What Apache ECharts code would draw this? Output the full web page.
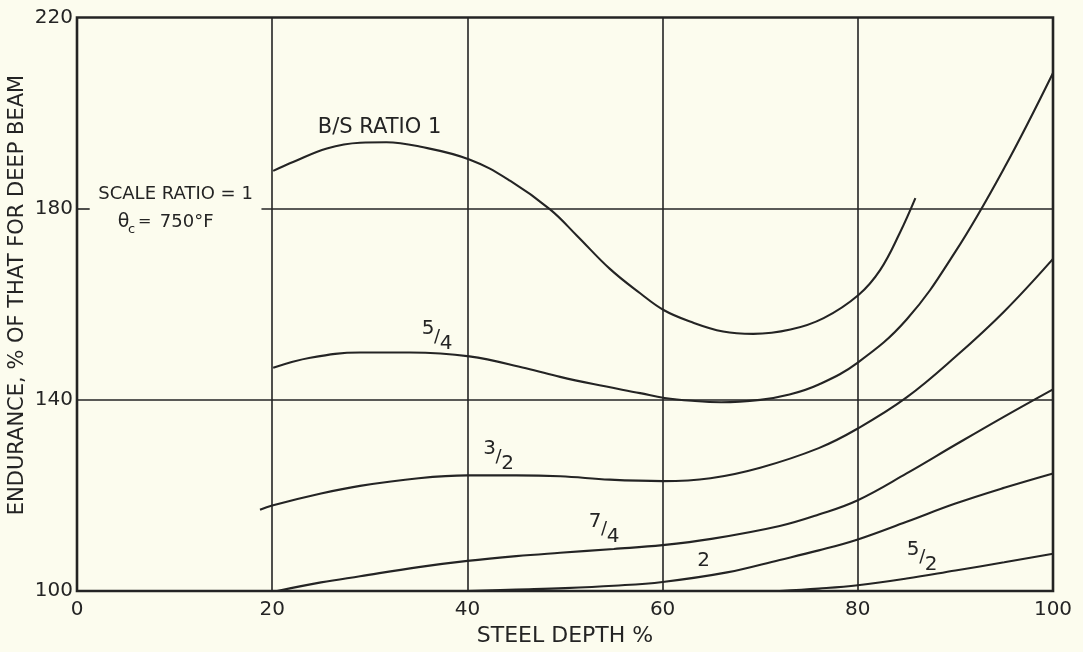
<!DOCTYPE html>
<html>
<head>
<meta charset="utf-8">
<script src="https://cdn.jsdelivr.net/npm/echarts@6/dist/echarts.min.js"></script>
<style>
html,body{margin:0;padding:0;background:#fcfcee;}
#chart{width:1083px;height:652px;}
</style>
</head>
<body>
<div id="chart"></div>
<script>
// ---- data ----
const xTicks = [0, 20, 40, 60, 80, 100];
const yTicks = [100, 140, 180, 220];
const ratio1   = [[20.1,187.9],[22.2,189.8],[25.6,192.6],[29.0,193.8],[31.7,193.9],[35.1,193.0],[40.2,190.3],[44.4,185.8],[48.5,179.8],[51.2,174.4],[54.6,167.4],[57.7,162.3],[60.1,158.8],[62.8,156.4],[66.2,154.3],[69.3,153.8],[73.1,154.7],[76.5,157.1],[80.1,162.0],[82.3,167.2],[84.3,174.9],[85.9,182.2]];
const ratio5_4 = [[20.1,146.7],[23.9,148.8],[29.0,149.9],[34.1,149.9],[40.2,149.1],[46.0,146.6],[49.5,144.8],[52.9,143.3],[57.7,141.4],[60.2,140.4],[63,139.8],[66,139.5],[70,140.0],[73,141.1],[76,143.2],[80,147.8],[85,156.8],[90,171.0],[95,188.5],[100,208.4]];
const ratio3_2 = [[18.75,117.0],[20,117.9],[25,120.4],[29,122.0],[35,123.6],[40,124.2],[45,124.2],[49.5,124.0],[54.6,123.3],[60,123.0],[64.9,123.6],[70,125.8],[76,129.9],[80,134.0],[85,140.5],[90,149.0],[95,158.5],[100,169.5]];
const ratio7_4 = [[20.5,100.0],[25,101.8],[29,103.1],[35,105.0],[40,106.3],[45,107.3],[49.5,108.0],[55,108.8],[60,109.6],[65,110.9],[72,113.6],[76,116.0],[80,119.0],[85,124.6],[90,130.6],[95,136.5],[100,142.2]];
const ratio2   = [[40,100.0],[45,100.3],[50,100.6],[55,101.1],[60,101.9],[66.6,103.9],[72,106.5],[76,108.5],[80,110.8],[85,114.5],[90,118.3],[95,121.6],[100,124.6]];
const ratio5_2 = [[72,100.0],[76,100.5],[80,101.2],[85,102.6],[90,104.3],[95,106.0],[100,107.8]];
// curve labels: [text, x, y]
const curveLabels = [['B/S RATIO 1', 31.0, 196.9]];
const fractionLabels = [['5','4',36.9,153.1],['3','2',43.2,128.0],['7','4',54.0,112.9],['5','2',86.6,107.0]];
const plainLabels = [['2', 64.2, 106.3]];
const noteLine1 = ['SCALE RATIO = 1', 10.1, 183.1];
const noteLine2 = ['750°F', 9.8, 177.2];
const yName = 'ENDURANCE, % OF THAT FOR DEEP BEAM';
const xName = 'STEEL DEPTH %';

const INK = '#242424';
const FONT = 'DejaVu Sans';
const chart = echarts.init(document.getElementById('chart'));

function curve(name, data) {
  return {
    name, type: 'line', data, smooth: 0.4,
    showSymbol: false, symbol: 'none', silent: true,
    lineStyle: { color: INK, width: 2.1 }, z: 3
  };
}

const gridSeries = {
  type: 'line', data: [], silent: true,
  markLine: {
    symbol: 'none', silent: true, label: { show: false },
    lineStyle: { color: INK, width: 1.6, type: 'solid' },
    data: [
      [{ coord: [0, 140] }, { coord: [100, 140] }],
      [{ coord: [18.9, 180] }, { coord: [100, 180] }],
      [{ coord: [0, 180] }, { coord: [1.3, 180] }]
    ]
  }
};

chart.setOption({
  backgroundColor: '#fcfcee',
  animation: false,
  grid: { left: 77, right: 30, top: 17.5, bottom: 60.3, show: true, borderColor: INK, borderWidth: 2.6, backgroundColor: 'transparent' },
  xAxis: {
    type: 'value', min: xTicks[0], max: xTicks[xTicks.length - 1], interval: 20,
    axisLine: { show: false }, axisTick: { show: false },
    axisLabel: { color: INK, fontFamily: FONT, fontSize: 20, margin: 9, formatter: v => xTicks.includes(v) ? String(v) : '' },
    splitLine: { show: true, lineStyle: { color: INK, width: 1.6 } },
    name: xName, nameLocation: 'middle', nameGap: 34,
    nameTextStyle: { color: INK, fontFamily: FONT, fontSize: 22 }
  },
  yAxis: {
    type: 'value', min: yTicks[0], max: yTicks[yTicks.length - 1], interval: 40,
    axisLine: { show: false }, axisTick: { show: false },
    axisLabel: { color: INK, fontFamily: FONT, fontSize: 20, margin: 4, formatter: v => yTicks.includes(v) ? String(v) : '' },
    splitLine: { show: false }
  },
  series: [
    gridSeries,
    curve('1', ratio1), curve('5/4', ratio5_4), curve('3/2', ratio3_2),
    curve('7/4', ratio7_4), curve('2', ratio2), curve('5/2', ratio5_2)
  ]
});

function px(x, y) { return chart.convertToPixel({ gridIndex: 0 }, [x, y]); }
const txt = (text, x, y, size, extra) => Object.assign({
  type: 'text', x, y, silent: true, z: 10,
  style: Object.assign({ text, fill: INK, font: `${size}px "${FONT}"`, align: 'center', verticalAlign: 'middle' }, extra || {})
});

const g = [];
curveLabels.forEach(([t, x, y]) => { const p = px(x, y); g.push(txt(t, p[0], p[1], 21)); });
plainLabels.forEach(([t, x, y]) => { const p = px(x, y); g.push(txt(t, p[0], p[1], 20)); });
fractionLabels.forEach(([n, d, x, y]) => {
  const p = px(x, y);
  g.push(txt(n, p[0] - 9, p[1] - 8, 20));
  g.push(txt('/', p[0], p[1], 18));
  g.push(txt(d, p[0] + 9, p[1] + 7, 20));
});
{
  const p = px(noteLine1[1], noteLine1[2]);
  g.push(txt(noteLine1[0], p[0], p[1], 18));
  const q = px(noteLine2[1], noteLine2[2]);
  g.push(txt('θ', q[0] - 49, q[1], 19));
  g.push(txt('c', q[0] - 41, q[1] + 8, 13));
  g.push(txt('=', q[0] - 28, q[1], 16));
  g.push(txt(noteLine2[0], q[0] + 14, q[1], 18));
}
g.push(txt(yName, 18, 295, 21, {}));
g[g.length - 1].rotation = Math.PI / 2;

chart.setOption({ graphic: g });
</script>
</body>
</html>
